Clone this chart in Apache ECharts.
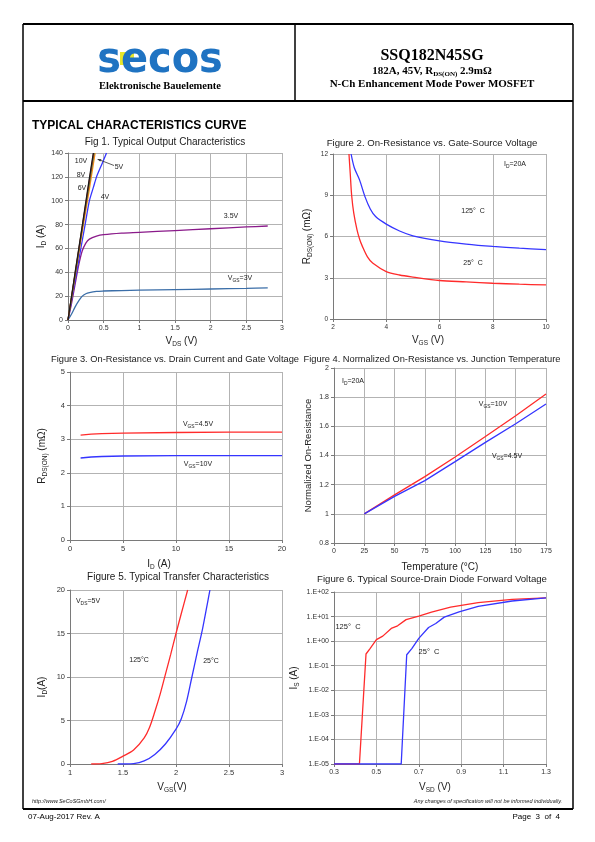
<!DOCTYPE html>
<html><head><meta charset="utf-8">
<script src="https://cdn.jsdelivr.net/npm/echarts@6/dist/echarts.min.js"></script>
<style>html,body{margin:0;padding:0;background:#fff}#c{width:595px;height:842px}</style>
</head><body><div id="c"></div>
<script>
// ---------- Fig 1: Typical Output Characteristics (VDS V, ID A) ----------
const fig1Vgs3  = [[0,0],[0.05,5],[0.1,11],[0.15,16],[0.2,20],[0.25,22],[0.3,23],[0.4,24],[0.5,24.3],[0.75,24.7],[1,25],[1.5,25.5],[2,26],[2.5,26.5],[2.8,27]];
const fig1Vgs35 = [[0,0],[0.05,14],[0.1,30],[0.15,46],[0.2,58],[0.25,64.5],[0.3,67.8],[0.4,70.3],[0.5,71.5],[0.75,72.8],[1,73.5],[1.5,75],[2,76.5],[2.5,78],[2.8,78.8]];
const fig1Vgs4  = [[0,0],[0.06,20],[0.12,40],[0.18,60],[0.24,80],[0.3,100],[0.36,112],[0.4,120],[0.47,130],[0.54,140]];
const fig1Vgs5  = [[0,0],[0.1,37],[0.2,74],[0.3,110],[0.38,140]];
const fig1Vgs6  = [[0,0],[0.1,38],[0.2,77],[0.3,115],[0.365,140]];
const fig1Vgs8  = [[0,0],[0.1,39],[0.2,78],[0.3,117],[0.36,140]];
const fig1Vgs10 = [[0,0],[0.1,40],[0.2,79],[0.3,119],[0.355,140]];
// ---------- Fig 2: RDS(on) vs VGS (mOhm) ----------
const fig2T125 = [[2.68,12],[2.8,11],[3,10.1],[3.2,8.9],[3.4,8],[3.6,7.45],[4,6.9],[4.5,6.4],[5,6.05],[6,5.68],[7,5.45],[8,5.28],[9,5.15],[10,5.05]];
const fig2T25  = [[2.6,12],[2.65,10.5],[2.7,9],[2.78,7.7],[2.9,6.5],[3,5.8],[3.1,5.3],[3.3,4.5],[3.5,4.05],[4,3.45],[4.5,3.2],[5,3.05],[6,2.8],[7,2.7],[8,2.6],[9,2.53],[10,2.48]];
// ---------- Fig 3: RDS(on) vs ID ----------
const fig3Vgs45 = [[1,3.12],[2,3.15],[3,3.165],[5,3.18],[10,3.2],[15,3.21],[20,3.21]];
const fig3Vgs10 = [[1,2.44],[2,2.47],[3,2.485],[5,2.5],[10,2.51],[15,2.51],[20,2.51]];
// ---------- Fig 4: Normalized RDS(on) vs Tj ----------
const fig4Vgs10 = [[25,1],[50,1.13],[75,1.255],[100,1.39],[125,1.53],[150,1.672],[175,1.822]];
const fig4Vgs45 = [[25,1],[50,1.12],[75,1.228],[100,1.358],[125,1.49],[150,1.618],[175,1.753]];
// ---------- Fig 5: Transfer characteristics ----------
const fig5T125 = [[1.2,0],[1.3,0.05],[1.4,0.3],[1.5,0.9],[1.6,1.6],[1.7,3],[1.75,4.2],[1.8,6],[1.85,8],[1.9,10.3],[1.95,12.6],[2,15],[2.05,17.3],[2.11,20]];
const fig5T25  = [[1.45,0],[1.6,0.05],[1.7,0.35],[1.8,1.1],[1.9,2.3],[2,4],[2.05,5.2],[2.1,7.2],[2.15,10],[2.2,12.8],[2.25,15.5],[2.3,18.7],[2.32,20]];
// ---------- Fig 6: Source-drain diode forward voltage ----------
const fig6T125 = [[0.3,1e-5],[0.42,1e-5],[0.451,0.3],[0.47,0.5],[0.5,1.15],[0.53,1.6],[0.57,3.3],[0.6,4.2],[0.64,7.5],[0.7,10.5],[0.76,15],[0.85,24],[0.98,37],[1.14,50],[1.3,58]];
const fig6T25  = [[0.3,1e-5],[0.617,1e-5],[0.643,0.28],[0.667,0.5],[0.7,1.3],[0.746,3.6],[0.78,5.2],[0.82,9.5],[0.89,15.5],[0.98,26],[1.14,43],[1.3,58]];

const SANS = 'Liberation Sans', SERIF = 'Liberation Serif';
const grids = [
  {left:68, top:153, width:214, height:167},
  {left:333, top:154, width:213, height:165},
  {left:70, top:372, width:212, height:168},
  {left:334, top:368, width:212, height:175},
  {left:70, top:590, width:212, height:174},
  {left:334, top:592, width:212, height:172}
];
function richName(fs){
  return {fontFamily:SANS, fontSize:fs, color:'#222', lineHeight:13,
    rich:{n:{fontFamily:SANS,fontSize:fs,color:'#222',lineHeight:13},
          s:{fontFamily:SANS,fontSize:fs*0.65,color:'#222',lineHeight:7,verticalAlign:'bottom'}}};
}
function axis(o){
  const a = {
    gridIndex:o.g, type:o.type||'value', min:o.min, max:o.max,
    name:o.name, nameLocation:'middle', nameGap:o.gap, nameTextStyle:Object.assign(richName(o.nfs||10), o.pad?{padding:o.pad}:{}),
    axisLine:{show:true,onZero:false,lineStyle:{color:'#7a7a7a',width:1}},
    axisTick:{show:true,length:3,lineStyle:{color:'#7a7a7a'}},
    splitLine:{show:true,lineStyle:{color:'#b3b3b3',width:1}},
    axisLabel:{fontFamily:SANS,fontSize:o.fs||7,color:'#333',margin:5,showMinLabel:true,showMaxLabel:true},
  };
  if(o.type==='log'){a.logBase=10;}
  else a.interval=o.interval;
  if(o.fmt) a.axisLabel.formatter=o.fmt;
  return a;
}
const xAxes = [
  axis({g:0,min:0,max:3,interval:0.5,name:'{n|V}{s|DS}{n| (V)}',gap:14.5,pad:[0,0,0,13],fs:7}),
  axis({g:1,min:2,max:10,interval:2,name:'{n|V}{s|GS}{n| (V)}',gap:14.5,pad:[0,23,0,0],fs:6.5}),
  axis({g:2,min:0,max:20,interval:5,name:'{n|I}{s|D}{n| (A)}',gap:17.5,pad:[0,34,0,0],fs:7.5}),
  axis({g:3,min:0,max:175,interval:25,name:'Temperature (°C)',gap:17.5,fs:7}),
  axis({g:4,min:1,max:3,interval:0.5,name:'{n|V}{s|GS}{n|(V)}',gap:16.5,pad:[0,8,0,0],fs:7.5}),
  axis({g:5,min:0.3,max:1.3,interval:0.2,name:'{n|V}{s|SD}{n| (V)}',gap:16.5,pad:[0,10,0,0],fs:7})
];
const logFmt = v => { const e = Math.round(Math.log10(v)); return '1.E' + (e<0?'-':'+') + String(Math.abs(e)).padStart(2,'0'); };
const yAxes = [
  axis({g:0,min:0,max:140,interval:20,name:'{n|I}{s|D}{n| (A)}',gap:14,fs:7}),
  axis({g:1,min:0,max:12,interval:3,name:'{n|R}{s|DS(ON)}{n| (mΩ)}',gap:19.5,fs:6.5}),
  axis({g:2,min:0,max:5,interval:1,name:'{n|R}{s|DS(ON)}{n| (mΩ)}',gap:21.5,fs:7.5}),
  axis({g:3,min:0.8,max:2,interval:0.2,name:'Normalized On-Resistance',gap:18.5,nfs:9.5,fs:7}),
  axis({g:4,min:0,max:20,interval:5,name:'{n|I}{s|D}{n|(A)}',gap:21.5,pad:[0,20,0,0],fs:7.5}),
  axis({g:5,type:'log',min:1e-5,max:100,name:'{n|I}{s|S}{n| (A)}',gap:33.5,fs:7,fmt:logFmt})
];
function line(g,data,color,smooth){
  return {type:'line',xAxisIndex:g,yAxisIndex:g,data:data,showSymbol:false,symbol:'none',
    smooth:smooth||false,
    lineStyle:{color:color,width:1.3},itemStyle:{color:color},z:3,silent:true,animation:false};
}
const series = [
  line(0,fig1Vgs3,'#3b6ea8',0.3),
  line(0,fig1Vgs35,'#8a1a8a',0.3),
  line(0,fig1Vgs4,'#3535ff',0.2),
  line(0,fig1Vgs5,'#ff8a1a',false),
  line(0,fig1Vgs6,'#2f8f2f',false),
  line(0,fig1Vgs8,'#c0392b',false),
  line(0,fig1Vgs10,'#1a1a1a',false),
  line(1,fig2T125,'#3535ff',0.3),
  line(1,fig2T25,'#ff2b2b',0.3),
  line(2,fig3Vgs45,'#ff2b2b',false),
  line(2,fig3Vgs10,'#3535ff',false),
  line(3,fig4Vgs10,'#ff2b2b',false),
  line(3,fig4Vgs45,'#3535ff',false),
  line(4,fig5T125,'#ff2b2b',0.3),
  line(4,fig5T25,'#3535ff',0.3),
  line(5,fig6T125,'#ff2b2b',false),
  line(5,fig6T25,'#3535ff',false)
];

function T(x,y,text,font,opt){
  opt=opt||{};
  return {type:'text',x:x,y:y,z:10,silent:true,style:Object.assign({text:text,font:font,fill:opt.fill||'#1a1a1a',
    align:opt.align||'center',verticalAlign:'middle'},opt.rich?{rich:opt.rich}:{})};
}
function L(x1,y1,x2,y2,w,c){return {type:'line',z:10,silent:true,shape:{x1,y1,x2,y2},style:{stroke:c||'#000',lineWidth:w||1}};}
const subRich = fs => ({n:{fontFamily:SANS,fontSize:fs,fill:'#1a1a1a',lineHeight:fs+3},s:{fontFamily:SANS,fontSize:fs*0.7,fill:'#1a1a1a',lineHeight:fs*0.7,verticalAlign:'bottom'}});
const serifRich = {b:{fontFamily:SERIF,fontWeight:'bold',fontSize:11,fill:'#000',lineHeight:13},
                   s:{fontFamily:SERIF,fontWeight:'bold',fontSize:7,fill:'#000',lineHeight:7,verticalAlign:'bottom'}};

const graphics = [
  // frame
  L(23,24,573,24,2), L(23,101,573,101,2), L(23,809,573,809,2),
  L(23,24,23,809,1.5), L(573,24,573,809,1.5), L(295,24,295,101,1.5),
  // logo
  {type:'polygon',z:10,silent:true,shape:{points:[[120,52],[134,52],[134,58],[127,65],[120,65]]},style:{fill:'#e6e62a'}},
  {type:'text',x:160,y:61,z:11,silent:true,scaleX:0.95,style:{text:'secos',font:'bold 42px "DejaVu Sans"',fill:'#1f73c2',align:'center',verticalAlign:'middle'}},
  T(160,86,'Elektronische Bauelemente','bold 10.5px '+SERIF,{fill:'#000'}),
  // header right
  T(432,56,'SSQ182N45SG','bold 16px '+SERIF,{fill:'#000'}),
  T(432,71,'{b|182A, 45V, R}{s|DS(ON)}{b| 2.9mΩ}','bold 11px '+SERIF,{rich:serifRich}),
  T(432,84,'N-Ch Enhancement Mode Power MOSFET','bold 11px '+SERIF,{fill:'#000'}),
  // section title
  T(32,126,'TYPICAL CHARACTERISTICS CURVE','bold 12px '+SANS,{align:'left',fill:'#000'}),
  // figure titles
  T(165,142,'Fig 1. Typical Output Characteristics','10px '+SANS),
  T(432,143,'Figure 2. On-Resistance vs. Gate-Source Voltage','9.6px '+SANS),
  T(175,359,'Figure 3. On-Resistance vs. Drain Current and Gate Voltage','9.3px '+SANS),
  T(432,359,'Figure 4. Normalized On-Resistance vs. Junction Temperature','9.3px '+SANS),
  T(178,577,'Figure 5. Typical Transfer Characteristics','10px '+SANS),
  T(432,579,'Figure 6. Typical Source-Drain Diode Forward Voltage','9.6px '+SANS),
  // fig1 annotations
  T(81,161,'10V','7px '+SANS), T(81,175,'8V','7px '+SANS), T(82,188.5,'6V','7px '+SANS),
  T(105,197.5,'4V','7px '+SANS), T(119,167.5,'5V','7px '+SANS),
  L(114,165.5,98,159.3,0.8,'#333'),
  {type:'polygon',z:10,silent:true,shape:{points:[[97,159],[101.5,159.2],[100.2,161.6]]},style:{fill:'#333'}},
  T(231,216,'3.5V','7px '+SANS),
  T(240,278,'{n|V}{s|GS}{n|=3V}','7px '+SANS,{rich:subRich(7)}),
  // fig2
  T(515,164,'{n|I}{s|D}{n|=20A}','7px '+SANS,{rich:subRich(7)}),
  T(473,211,'125°  C','7px '+SANS), T(473,263,'25°  C','7px '+SANS),
  // fig3
  T(198,424,'{n|V}{s|GS}{n|=4.5V}','7px '+SANS,{rich:subRich(7)}),
  T(198,464,'{n|V}{s|GS}{n|=10V}','7px '+SANS,{rich:subRich(7)}),
  // fig4
  T(353,381,'{n|I}{s|D}{n|=20A}','7px '+SANS,{rich:subRich(7)}),
  T(493,404,'{n|V}{s|GS}{n|=10V}','7px '+SANS,{rich:subRich(7)}),
  T(507,456,'{n|V}{s|GS}{n|=4.5V}','7px '+SANS,{rich:subRich(7)}),
  // fig5
  T(88,601,'{n|V}{s|DS}{n|=5V}','7px '+SANS,{rich:subRich(7)}),
  T(139,660,'125°C','7px '+SANS), T(211,661,'25°C','7px '+SANS),
  // fig6
  T(348,627,'125°  C','7.5px '+SANS), T(429,652,'25°  C','7.5px '+SANS),
  // footer
  T(32,801,'http://www.SeCoSGmbH.com/','italic 5.5px '+SANS,{align:'left',fill:'#222'}),
  T(562,801,'Any changes of specification will not be informed individually.','italic 5.5px '+SANS,{align:'right',fill:'#222'}),
  T(28,817,'07-Aug-2017 Rev. A','8px '+SANS,{align:'left',fill:'#000'}),
  T(560,817,'Page  3  of  4','8px '+SANS,{align:'right',fill:'#000'})
];

const chart = echarts.init(document.getElementById('c'), null, {renderer:'canvas', width:595, height:842});
chart.setOption({
  backgroundColor:'#ffffff',
  animation:false,
  grid:grids.map(g=>Object.assign({containLabel:false},g)),
  xAxis:xAxes, yAxis:yAxes, series:series, graphic:graphics
});
</script></body></html>
